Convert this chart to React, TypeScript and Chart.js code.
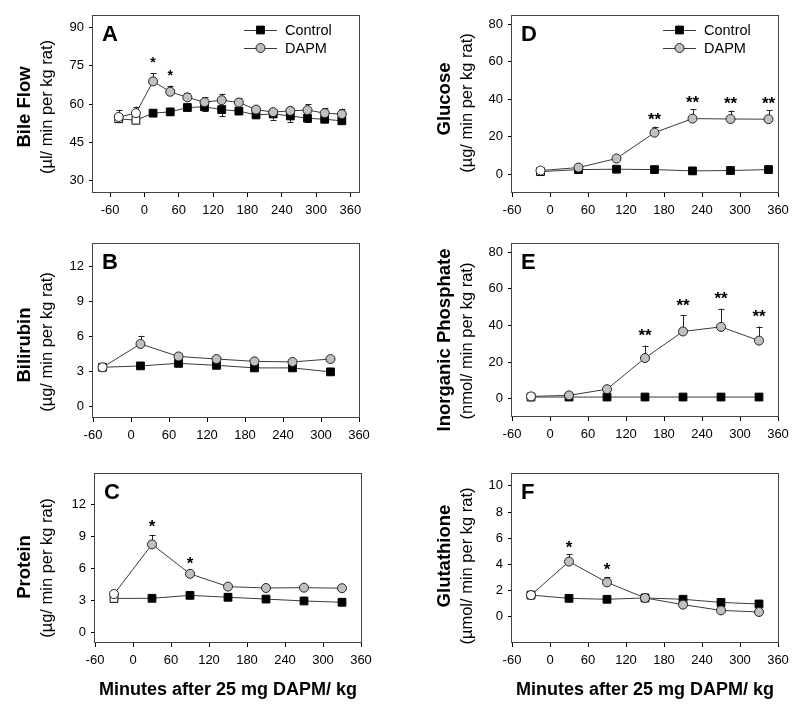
import React, { useEffect, useRef } from 'react';
import { Chart, registerables } from 'chart.js';

Chart.register(...registerables);

const FONT = '"Liberation Sans", Arial, Helvetica, sans-serif';

// ---------- data ----------
const xTickValues = [-60, 0, 60, 120, 180, 240, 300, 360];

// A: Bile flow
const bileTimes = [-45, -15, 15, 45, 75, 105, 135, 165, 195, 225, 255, 285, 315, 345];
const bileControl = [54.2, 53.6, 56.4, 56.9, 58.6, 58.9, 57.8, 57.2, 55.7, 56.1, 55.3, 54.4, 54.0, 53.4];
const bileControlSem = [0.8, 0.6, 0.8, 0.6, 0.8, 1.8, 2.6, 0.8, 0.8, 2.3, 2.4, 1.6, 1.0, 0.8];
const bileDapm = [54.9, 56.4, 68.9, 64.8, 62.6, 60.7, 61.5, 60.6, 57.8, 56.8, 57.3, 57.6, 56.4, 56.0];
const bileDapmSem = [2.8, 2.6, 3.3, 2.4, 1.9, 2.1, 2.5, 1.7, 1.5, 1.2, 1.7, 2.3, 2.0, 2.2];
const bileSig = ['', '', '*', '*', '', '', '', '', '', '', '', '', '', ''];
const bileYTicks = [30, 45, 60, 75, 90];

// B: Bilirubin
const biliTimes = [-45, 15, 75, 135, 195, 255, 315];
const biliControl = [3.34, 3.46, 3.68, 3.51, 3.29, 3.29, 2.95];
const biliControlSem = [0.15, 0.15, 0.15, 0.15, 0.2, 0.15, 0.15];
const biliDapm = [3.34, 5.34, 4.27, 4.05, 3.85, 3.8, 4.05];
const biliDapmSem = [0.2, 0.7, 0.3, 0.15, 0.15, 0.1, 0.1];
const biliSig = ['', '', '', '', '', '', ''];
const biliYTicks = [0, 3, 6, 9, 12];

// C: Protein
const protTimes = [-30, 30, 90, 150, 210, 270, 330];
const protControl = [3.19, 3.2, 3.48, 3.3, 3.13, 2.95, 2.83];
const protControlSem = [0.1, 0.1, 0.1, 0.1, 0.1, 0.1, 0.1];
const protDapm = [3.6, 8.27, 5.5, 4.3, 4.17, 4.2, 4.15];
const protDapmSem = [0.2, 0.9, 0.2, 0.15, 0.1, 0.1, 0.1];
const protSig = ['', '*', '*', '', '', '', ''];
const protYTicks = [0, 3, 6, 9, 12];

// D: Glucose
const glucTimes = [-15, 45, 105, 165, 225, 285, 345];
const glucControl = [1.4, 2.5, 2.7, 2.5, 1.8, 2.0, 2.5];
const glucControlSem = [0.3, 0.3, 0.3, 0.3, 0.3, 0.3, 0.3];
const glucDapm = [1.97, 3.6, 8.4, 22.2, 29.7, 29.5, 29.4];
const glucDapmSem = [0.5, 0.8, 1.0, 3.2, 5.0, 4.5, 4.8];
const glucSig = ['', '', '', '**', '**', '**', '**'];
const glucYTicks = [0, 20, 40, 60, 80];

// E: Inorganic phosphate
const phosTimes = [-30, 30, 90, 150, 210, 270, 330];
const phosControl = [0.9, 0.9, 0.9, 0.9, 0.9, 0.9, 0.9];
const phosControlSem = [0.2, 0.2, 0.2, 0.2, 0.2, 0.2, 0.2];
const phosDapm = [1.25, 1.8, 5.2, 22.2, 36.7, 39.2, 31.7];
const phosDapmSem = [0.3, 0.4, 1.0, 6.8, 8.8, 10.0, 7.7];
const phosSig = ['', '', '', '**', '**', '**', '**'];
const phosYTicks = [0, 20, 40, 60, 80];

// F: Glutathione
const gshTimes = [-30, 30, 90, 150, 210, 270, 330];
const gshControl = [1.66, 1.41, 1.34, 1.44, 1.34, 1.1, 0.98];
const gshControlSem = [0.1, 0.1, 0.1, 0.1, 0.1, 0.1, 0.1];
const gshDapm = [1.66, 4.22, 2.63, 1.44, 0.93, 0.49, 0.37];
const gshDapmSem = [0.1, 0.54, 0.42, 0.1, 0.1, 0.1, 0.1];
const gshSig = ['', '*', '*', '', '', '', ''];
const gshYTicks = [0, 2, 4, 6, 8, 10];

// ---------- layout ----------
type Panel = {
  key: string;
  letter: string;
  title: string;
  subtitle: string;
  times: number[];
  control: number[];
  controlSem: number[];
  dapm: number[];
  dapmSem: number[];
  sig: string[];
  yTicks: number[];
  xMin: number;
  xMax: number;
  yMin: number;
  yMax: number;
  cell: [number, number, number, number];
  plot: [number, number, number, number];
  titleX: [number, number];
  titleY: [number, number];
  sigSize: number;
  sigGap: number;
  legend: boolean;
  xTitle: boolean;
};

const panels: Panel[] = [
  {
    key: 'A', letter: 'A', title: 'Bile Flow', subtitle: '(\u00b5l/ min per kg rat)',
    times: bileTimes, control: bileControl, controlSem: bileControlSem, dapm: bileDapm, dapmSem: bileDapmSem, sig: bileSig,
    yTicks: bileYTicks, xMin: -90, xMax: 375, yMin: 25, yMax: 95,
    cell: [0, 0, 400, 230], plot: [93, 15, 359, 193], titleX: [25, 47], titleY: [107, 107],
    sigSize: 14, sigGap: 6, legend: true, xTitle: false,
  },
  {
    key: 'B', letter: 'B', title: 'Bilirubin', subtitle: '(\u00b5g/ min per kg rat)',
    times: biliTimes, control: biliControl, controlSem: biliControlSem, dapm: biliDapm, dapmSem: biliDapmSem, sig: biliSig,
    yTicks: biliYTicks, xMin: -60, xMax: 360, yMin: -1, yMax: 14,
    cell: [0, 230, 400, 230], plot: [93, 240, 359, 418], titleX: [25, 47], titleY: [345, 342],
    sigSize: 17, sigGap: 3, legend: false, xTitle: false,
  },
  {
    key: 'C', letter: 'C', title: 'Protein', subtitle: '(\u00b5g/ min per kg rat)',
    times: protTimes, control: protControl, controlSem: protControlSem, dapm: protDapm, dapmSem: protDapmSem, sig: protSig,
    yTicks: protYTicks, xMin: -60, xMax: 360, yMin: -1, yMax: 15,
    cell: [0, 460, 400, 249], plot: [95, 465, 361, 643], titleX: [25, 47], titleY: [567, 568],
    sigSize: 17, sigGap: 3, legend: false, xTitle: true,
  },
  {
    key: 'D', letter: 'D', title: 'Glucose', subtitle: '(\u00b5g/ min per kg rat)',
    times: glucTimes, control: glucControl, controlSem: glucControlSem, dapm: glucDapm, dapmSem: glucDapmSem, sig: glucSig,
    yTicks: glucYTicks, xMin: -60, xMax: 360, yMin: -10, yMax: 85,
    cell: [400, 0, 400, 230], plot: [512, 15, 778, 193], titleX: [445, 467], titleY: [99, 103],
    sigSize: 17, sigGap: 1.5, legend: true, xTitle: false,
  },
  {
    key: 'E', letter: 'E', title: 'Inorganic Phosphate', subtitle: '(nmol/ min per kg rat)',
    times: phosTimes, control: phosControl, controlSem: phosControlSem, dapm: phosDapm, dapmSem: phosDapmSem, sig: phosSig,
    yTicks: phosYTicks, xMin: -60, xMax: 360, yMin: -10, yMax: 85,
    cell: [400, 230, 400, 230], plot: [512, 243, 778, 417], titleX: [445, 467], titleY: [340, 341],
    sigSize: 17, sigGap: 4.3, legend: false, xTitle: false,
  },
  {
    key: 'F', letter: 'F', title: 'Glutathione', subtitle: '(\u00b5mol/ min per kg rat)',
    times: gshTimes, control: gshControl, controlSem: gshControlSem, dapm: gshDapm, dapmSem: gshDapmSem, sig: gshSig,
    yTicks: gshYTicks, xMin: -60, xMax: 360, yMin: -2, yMax: 11,
    cell: [400, 460, 400, 249], plot: [512, 465, 778, 643], titleX: [445, 467], titleY: [556, 566],
    sigSize: 17, sigGap: 1.5, legend: false, xTitle: true,
  },
];

const Y_AXIS_W = 30;
const X_AXIS_H = 25;
const GREY = '#c0c0c0';
const LINE = '#3a3a3a';

function drawSquare(ctx: CanvasRenderingContext2D, x: number, y: number, fill: string) {
  ctx.beginPath();
  ctx.rect(x - 3.9, y - 3.9, 7.8, 7.8);
  ctx.fillStyle = fill;
  ctx.fill();
  ctx.strokeStyle = '#000';
  ctx.lineWidth = 1;
  ctx.stroke();
}

function drawCircle(ctx: CanvasRenderingContext2D, x: number, y: number, fill: string) {
  ctx.beginPath();
  ctx.arc(x, y, 4.5, 0, Math.PI * 2);
  ctx.fillStyle = fill;
  ctx.fill();
  ctx.strokeStyle = '#222';
  ctx.lineWidth = 1;
  ctx.stroke();
}

function makeDecor(p: Panel) {
  const ox = p.cell[0];
  const oy = p.cell[1];
  return {
    id: 'decor' + p.key,
    beforeDatasetsDraw(chart: any) {
      const { ctx, chartArea: a, scales } = chart;
      const xs = scales.x;
      const ys = scales.y;
      ctx.save();
      // frame
      ctx.strokeStyle = '#444';
      ctx.lineWidth = 1;
      ctx.strokeRect(Math.round(a.left) - 0.5, Math.round(a.top) + 0.5, Math.round(a.right - a.left) + 1, Math.round(a.bottom - a.top) - 1);
      // error bars
      ctx.strokeStyle = '#222';
      ctx.lineWidth = 1;
      const bar = (vals: number[], sems: number[], dir: number) => {
        p.times.forEach((t, i) => {
          const x = Math.round(xs.getPixelForValue(t)) + 0.5;
          const y0 = ys.getPixelForValue(vals[i]);
          const y1 = ys.getPixelForValue(vals[i] + dir * sems[i]);
          ctx.beginPath();
          ctx.moveTo(x, y0);
          ctx.lineTo(x, y1);
          ctx.moveTo(x - 3, Math.round(y1) + 0.5);
          ctx.lineTo(x + 3, Math.round(y1) + 0.5);
          ctx.stroke();
        });
      };
      bar(p.control, p.controlSem, -1);
      bar(p.dapm, p.dapmSem, 1);
      ctx.restore();
    },
    afterDraw(chart: any) {
      const { ctx, chartArea: a, scales } = chart;
      const xs = scales.x;
      const ys = scales.y;
      ctx.save();
      ctx.fillStyle = '#000';
      // significance marks
      ctx.font = `bold ${p.sigSize}px ${FONT}`;
      ctx.textAlign = 'center';
      ctx.textBaseline = 'alphabetic';
      p.sig.forEach((s, i) => {
        if (!s) return;
        const x = xs.getPixelForValue(p.times[i]);
        const y = ys.getPixelForValue(p.dapm[i] + p.dapmSem[i]);
        ctx.fillText(s, x, y - p.sigGap);
      });
      // panel letter
      ctx.font = `bold 22px ${FONT}`;
      ctx.textAlign = 'left';
      ctx.fillText(p.letter, a.left + 9, a.top + 26);
      // legend
      if (p.legend) {
        const x1 = a.right - 115;
        const x2 = a.right - 82;
        const xt = a.right - 74;
        const rows: [string, (c: CanvasRenderingContext2D, x: number, y: number) => void][] = [
          ['Control', (c, x, y) => drawSquare(c, x, y, '#000')],
          ['DAPM', (c, x, y) => drawCircle(c, x, y, GREY)],
        ];
        ctx.font = `14.5px ${FONT}`;
        ctx.textBaseline = 'middle';
        rows.forEach(([label, mark], i) => {
          const y = a.top + 15 + i * 18;
          ctx.strokeStyle = LINE;
          ctx.lineWidth = 1;
          ctx.beginPath();
          ctx.moveTo(x1, Math.round(y) + 0.5);
          ctx.lineTo(x2, Math.round(y) + 0.5);
          ctx.stroke();
          mark(ctx, (x1 + x2) / 2, y);
          ctx.fillStyle = '#000';
          ctx.fillText(label, xt, y + 1);
        });
      }
      // y titles
      ctx.textAlign = 'center';
      ctx.textBaseline = 'middle';
      ctx.fillStyle = '#000';
      ctx.save();
      ctx.translate(p.titleX[0] - ox, p.titleY[0] - oy);
      ctx.rotate(-Math.PI / 2);
      ctx.font = `bold 18.5px ${FONT}`;
      ctx.fillText(p.title, 0, 0);
      ctx.restore();
      ctx.save();
      ctx.translate(p.titleX[1] - ox, p.titleY[1] - oy);
      ctx.rotate(-Math.PI / 2);
      ctx.font = `16.5px ${FONT}`;
      ctx.fillText(p.subtitle, 0, 0);
      ctx.restore();
      // x title
      if (p.xTitle) {
        ctx.font = `bold 18px ${FONT}`;
        ctx.textAlign = 'center';
        ctx.textBaseline = 'alphabetic';
        ctx.fillText('Minutes after 25 mg DAPM/ kg', (a.left + a.right) / 2, 695 - oy);
      }
      ctx.restore();
    },
  };
}

function PanelChart({ p }: { p: Panel }) {
  const ref = useRef<HTMLCanvasElement | null>(null);
  useEffect(() => {
    if (!ref.current) return;
    const [cx, cy, cw, ch] = p.cell;
    const [l, t, r, b] = p.plot;
    const ticksFont = { family: FONT, size: 13 };
    const chart = new Chart(ref.current, {
      type: 'line',
      data: {
        datasets: [
          {
            label: 'DAPM',
            data: p.times.map((x, i) => ({ x, y: p.dapm[i] })),
            order: 0,
            borderColor: LINE,
            borderWidth: 1,
            tension: 0,
            pointStyle: 'circle',
            pointRadius: 4.5,
            pointBorderWidth: 1,
            pointBorderColor: '#222',
            pointBackgroundColor: p.times.map((x) => (x < 0 ? '#ffffff' : GREY)),
          },
          {
            label: 'Control',
            data: p.times.map((x, i) => ({ x, y: p.control[i] })),
            order: 1,
            borderColor: LINE,
            borderWidth: 1,
            tension: 0,
            pointStyle: 'rect',
            pointRadius: 5.5,
            pointBorderWidth: 1,
            pointBorderColor: '#000',
            pointBackgroundColor: p.times.map((x) => (x < 0 ? '#ffffff' : '#000000')),
          },
        ],
      },
      options: {
        responsive: false,
        animation: false,
        events: [],
        layout: {
          padding: {
            left: l - cx - Y_AXIS_W,
            top: t - cy,
            right: cx + cw - r,
            bottom: cy + ch - b - X_AXIS_H,
          },
        },
        plugins: { legend: { display: false }, tooltip: { enabled: false } },
        scales: {
          x: {
            type: 'linear',
            min: p.xMin,
            max: p.xMax,
            afterBuildTicks: (axis: any) => {
              axis.ticks = xTickValues.map((v) => ({ value: v }));
            },
            afterFit: (axis: any) => {
              axis.height = X_AXIS_H;
            },
            grid: { drawOnChartArea: false, drawTicks: true, tickLength: 4, color: '#000', lineWidth: 1 },
            border: { display: false },
            ticks: { font: ticksFont, color: '#000', padding: 6, maxRotation: 0, autoSkip: false },
          },
          y: {
            type: 'linear',
            min: p.yMin,
            max: p.yMax,
            afterBuildTicks: (axis: any) => {
              axis.ticks = p.yTicks.map((v) => ({ value: v }));
            },
            afterFit: (axis: any) => {
              axis.width = Y_AXIS_W;
            },
            grid: { drawOnChartArea: false, drawTicks: true, tickLength: 4, color: '#000', lineWidth: 1 },
            border: { display: false },
            ticks: { font: ticksFont, color: '#000', padding: 5, autoSkip: false },
          },
        },
      },
      plugins: [makeDecor(p)],
    } as any);
    return () => chart.destroy();
  }, [p]);
  const [cx, cy, cw, ch] = p.cell;
  return (
    <canvas
      ref={ref}
      width={cw}
      height={ch}
      style={{ position: 'absolute', left: cx, top: cy, width: cw, height: ch, display: 'block' }}
    />
  );
}

export default function App() {
  return (
    <div style={{ position: 'absolute', left: 0, top: 0, width: 800, height: 709, background: '#fff', overflow: 'hidden' }}>
      {panels.map((p) => (
        <PanelChart key={p.key} p={p} />
      ))}
    </div>
  );
}
